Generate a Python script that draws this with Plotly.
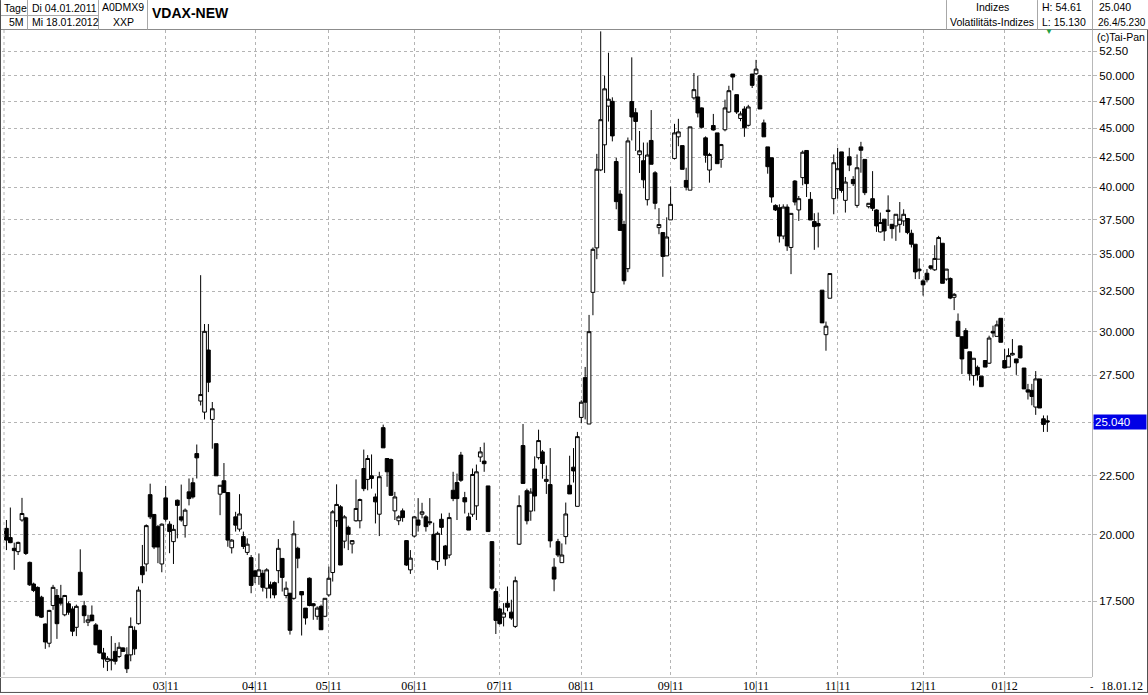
import math
import plotly.graph_objects as go

# ---------------- data ----------------
opens = [
    20.25, 19.88, 19.46, 19.33, 20.59, 20.68, 18.92, 18.12, 18.00, 17.65,
    16.73, 16.10, 17.36, 17.71, 17.61, 17.04, 17.42, 17.24, 16.62, 18.55,
    17.35, 16.79, 17.03, 16.70, 16.52, 15.79, 15.53, 15.55, 15.84, 15.68,
    15.95, 15.73, 15.73, 16.52, 16.74, 18.76, 18.86, 21.66, 20.82, 20.32,
    18.86, 21.52, 20.42, 19.72, 21.42, 20.72, 20.36, 21.78, 22.18, 23.51,
    26.11, 25.54, 28.91, 25.17, 23.98, 21.68, 22.27, 21.75, 19.48, 20.72,
    20.22, 19.92, 19.30, 19.10, 18.60, 18.40, 18.51, 17.97, 18.09, 18.17,
    18.61, 19.07, 17.71, 17.79, 17.61, 19.46, 17.85, 17.27, 18.33, 17.42,
    16.99, 17.33, 16.99, 17.73, 18.54, 20.56, 21.14, 19.74, 20.29, 19.63,
    20.56, 20.56, 22.82, 22.33, 22.49, 21.56, 20.83, 24.76, 23.28, 23.23,
    20.97, 20.56, 20.97, 19.76, 18.64, 19.94, 20.59, 20.83, 20.72, 20.52,
    20.01, 18.95, 20.62, 19.55, 19.20, 21.85, 22.19, 23.44, 21.53, 20.72,
    20.83, 21.18, 23.35, 23.16, 22.04, 19.72, 17.85, 17.24, 16.96, 17.44,
    17.13, 16.65, 19.62, 23.89, 21.83, 20.96, 22.80, 23.32, 23.59, 22.24,
    22.10, 18.74, 19.72, 18.91, 19.92, 22.07, 22.88, 21.16, 25.27, 27.36,
    24.94, 32.44, 35.45, 41.42, 43.55, 47.05, 47.50, 42.12, 39.47, 37.14,
    34.01, 47.48, 46.43, 42.70, 42.19, 39.03, 43.93, 41.18, 36.91, 36.55,
    34.89, 37.49, 42.38, 44.25, 43.48, 40.56, 39.78, 47.83, 47.92, 46.88,
    44.16, 41.41, 45.26, 44.60, 42.30, 44.88, 46.50, 50.16, 48.14, 45.90,
    46.78, 45.28, 50.16, 50.19, 49.99, 45.50, 43.37, 42.44, 38.59, 38.41,
    36.30, 38.46, 35.48, 40.51, 38.24, 40.79, 43.06, 39.06, 37.36, 37.22,
    32.58, 29.81, 32.06, 39.11, 39.90, 42.94, 38.98, 42.52, 40.64, 38.59,
    43.37, 42.30, 38.49, 39.11, 38.24, 36.60, 37.54, 38.22, 37.16, 37.04,
    37.16, 37.41, 37.59, 36.50, 35.71, 33.98, 33.19, 33.70, 34.20, 33.93,
    34.66, 35.78, 33.31, 33.35, 32.12, 30.62, 29.69, 30.05, 28.81, 27.47,
    27.93, 27.44, 28.31, 28.16, 30.01, 29.71, 30.80, 28.31, 27.94, 28.63,
    28.40, 29.15, 27.89, 26.70, 26.67, 25.80, 27.29, 25.20, 25.10,
]
highs = [
    20.59, 21.11, 19.68, 19.72, 21.52, 20.72, 18.95, 18.17, 18.03, 17.70,
    16.75, 17.21, 18.09, 17.94, 18.09, 17.73, 17.50, 17.33, 17.39, 19.42,
    17.52, 17.04, 17.36, 16.76, 16.54, 15.95, 15.69, 16.33, 16.11, 16.13,
    15.97, 15.97, 16.95, 16.65, 18.03, 19.59, 20.41, 22.14, 20.82, 20.39,
    20.45, 22.04, 20.54, 20.39, 21.45, 22.10, 21.07, 22.37, 22.40, 23.94,
    33.57, 30.45, 30.45, 26.06, 23.98, 22.07, 23.07, 21.75, 19.82, 20.93,
    21.68, 20.12, 19.85, 19.20, 18.64, 19.26, 18.64, 18.70, 18.21, 18.21,
    19.82, 19.07, 18.21, 17.79, 20.56, 19.52, 17.85, 17.27, 18.36, 17.44,
    17.33, 17.39, 17.61, 18.76, 21.00, 22.11, 21.21, 20.79, 20.36, 19.78,
    22.33, 21.49, 23.70, 23.44, 23.47, 21.71, 22.67, 24.91, 23.28, 23.28,
    21.78, 20.79, 21.07, 19.78, 19.39, 20.76, 21.51, 21.31, 20.79, 21.51,
    20.48, 20.12, 20.86, 19.59, 20.89, 22.67, 22.59, 23.59, 21.78, 20.89,
    22.82, 23.00, 23.82, 24.03, 22.04, 19.74, 17.97, 17.27, 17.44, 18.03,
    17.56, 18.39, 21.63, 24.94, 21.92, 21.94, 23.38, 24.66, 23.68, 22.96,
    23.77, 19.08, 19.83, 19.65, 21.32, 23.41, 23.77, 24.55, 26.15, 27.95,
    31.01, 35.48, 42.77, 54.62, 49.99, 52.34, 47.88, 42.43, 39.78, 37.42,
    44.19, 51.86, 46.86, 44.77, 43.75, 43.75, 46.68, 41.32, 38.38, 36.55,
    37.68, 40.06, 45.41, 45.87, 43.48, 41.60, 45.14, 50.26, 49.99, 46.93,
    44.29, 42.86, 46.32, 44.60, 43.63, 47.66, 49.00, 50.16, 48.14, 46.56,
    47.03, 47.17, 50.16, 51.60, 50.09, 45.80, 43.37, 42.44, 38.67, 38.67,
    38.67, 38.67, 37.98, 40.59, 39.32, 43.06, 43.06, 39.63, 37.99, 38.04,
    32.58, 30.60, 33.68, 42.72, 43.29, 42.94, 40.84, 43.29, 40.91, 42.72,
    43.81, 42.30, 38.75, 41.32, 38.29, 38.04, 37.54, 39.37, 37.16, 37.91,
    38.85, 38.29, 37.59, 36.76, 35.71, 34.71, 33.30, 33.98, 34.24, 35.64,
    36.31, 35.78, 33.98, 33.42, 32.39, 31.10, 29.69, 30.20, 28.81, 28.44,
    28.03, 27.44, 28.31, 29.75, 30.35, 30.66, 30.80, 28.97, 29.01, 29.55,
    28.40, 29.17, 27.89, 27.02, 27.02, 27.72, 27.29, 25.37, 25.37,
]
lows = [
    19.39, 19.66, 18.64, 19.20, 20.52, 19.20, 18.05, 17.83, 16.99, 16.93,
    15.92, 15.97, 17.21, 16.24, 17.36, 16.99, 17.04, 16.33, 16.33, 17.73,
    16.76, 16.66, 16.82, 16.04, 15.77, 15.33, 15.23, 15.25, 15.43, 15.63,
    15.82, 15.17, 15.53, 15.73, 16.71, 18.15, 18.58, 20.63, 19.43, 18.89,
    18.55, 20.52, 19.27, 18.86, 19.85, 20.52, 19.88, 21.20, 21.49, 22.37,
    25.88, 25.17, 26.58, 23.74, 22.49, 20.79, 21.75, 19.52, 19.26, 20.12,
    20.12, 19.43, 19.20, 17.79, 18.15, 18.09, 17.85, 17.61, 17.61, 17.61,
    18.15, 17.85, 17.61, 16.38, 17.56, 18.70, 16.35, 16.71, 17.33, 16.87,
    16.87, 16.54, 16.96, 17.67, 18.21, 20.31, 18.82, 19.46, 19.39, 19.26,
    20.52, 20.25, 21.81, 21.85, 21.92, 20.45, 19.94, 23.78, 22.00, 21.61,
    20.59, 20.38, 20.52, 18.79, 18.49, 19.88, 20.12, 20.66, 20.12, 20.38,
    19.01, 18.64, 19.99, 18.79, 19.08, 21.38, 20.59, 22.22, 20.86, 20.18,
    20.72, 20.59, 23.12, 22.67, 20.12, 17.91, 16.40, 16.71, 16.65, 17.16,
    16.87, 16.60, 19.59, 22.15, 20.41, 20.56, 20.95, 23.23, 22.36, 21.69,
    19.49, 17.86, 19.12, 18.91, 19.61, 21.69, 22.19, 21.16, 24.98, 25.17,
    24.94, 30.99, 34.66, 41.32, 41.17, 45.62, 43.85, 38.29, 36.71, 32.95,
    33.77, 43.93, 43.02, 41.17, 39.93, 38.58, 41.89, 38.29, 36.43, 33.46,
    34.89, 37.49, 42.29, 43.43, 41.47, 39.76, 39.78, 47.66, 46.00, 44.98,
    42.02, 40.38, 44.80, 41.94, 41.60, 44.74, 46.41, 48.55, 46.32, 45.65,
    44.25, 45.17, 48.78, 50.09, 46.78, 44.25, 41.11, 38.80, 38.16, 35.83,
    36.07, 35.24, 33.64, 38.59, 37.41, 40.17, 39.24, 37.48, 35.31, 35.48,
    30.52, 28.87, 32.06, 37.91, 39.11, 39.58, 38.04, 41.32, 40.11, 38.41,
    41.19, 39.39, 38.36, 38.16, 36.60, 36.55, 35.95, 37.04, 36.12, 35.95,
    36.55, 37.04, 36.43, 35.48, 33.31, 33.31, 32.23, 33.09, 33.93, 33.86,
    34.66, 33.03, 33.20, 32.00, 31.31, 29.71, 27.56, 28.97, 27.20, 26.93,
    27.20, 26.87, 27.94, 28.12, 29.65, 29.71, 29.36, 27.89, 27.94, 28.59,
    27.51, 28.44, 26.75, 26.19, 25.89, 25.40, 25.75, 24.55, 24.55,
]
closes = [
    19.78, 19.68, 19.37, 19.69, 20.86, 19.26, 18.09, 17.89, 17.01, 16.96,
    16.14, 17.19, 18.00, 16.74, 17.44, 17.71, 17.13, 16.49, 17.33, 17.73,
    17.01, 16.87, 16.84, 16.05, 15.79, 15.60, 15.62, 15.59, 15.53, 15.97,
    15.84, 15.30, 16.65, 15.92, 17.90, 18.46, 20.36, 20.72, 19.51, 19.51,
    20.42, 20.62, 20.12, 20.21, 21.20, 20.59, 21.00, 21.49, 21.56, 23.31,
    26.45, 30.01, 27.11, 25.71, 22.49, 22.07, 21.75, 19.78, 19.78, 20.38,
    20.84, 19.53, 19.62, 18.07, 18.40, 18.64, 18.00, 18.64, 17.97, 17.73,
    19.46, 18.36, 17.97, 16.52, 20.03, 19.08, 17.73, 16.93, 17.36, 17.35,
    17.27, 16.54, 17.61, 18.33, 20.93, 21.24, 18.82, 20.72, 20.01, 19.76,
    21.07, 21.45, 21.92, 23.28, 22.37, 21.35, 22.45, 23.78, 22.67, 21.63,
    21.56, 20.72, 20.69, 18.82, 19.08, 20.72, 20.38, 20.93, 20.32, 20.48,
    19.01, 20.05, 20.29, 19.05, 20.69, 21.49, 21.49, 22.29, 21.35, 20.18,
    22.55, 22.67, 23.59, 23.04, 20.12, 17.97, 16.85, 16.74, 17.10, 17.30,
    16.93, 18.24, 21.19, 22.15, 20.56, 21.77, 21.60, 24.13, 23.05, 22.33,
    19.75, 18.30, 19.20, 19.20, 20.84, 21.69, 22.71, 24.32, 26.05, 26.05,
    29.99, 35.35, 41.48, 45.79, 48.70, 47.70, 44.33, 38.88, 36.71, 33.20,
    43.89, 46.04, 45.63, 43.03, 40.61, 42.67, 41.89, 38.75, 37.14, 34.85,
    36.23, 38.67, 44.60, 44.69, 41.47, 40.02, 45.14, 48.62, 46.41, 45.10,
    42.65, 42.72, 44.86, 41.94, 43.57, 46.88, 48.52, 49.86, 46.50, 46.32,
    45.05, 46.97, 49.04, 50.66, 46.78, 44.25, 41.69, 39.24, 38.24, 36.30,
    38.46, 35.59, 37.98, 38.85, 39.11, 42.91, 40.30, 37.48, 36.99, 37.04,
    30.52, 30.32, 33.68, 42.02, 41.52, 39.76, 40.43, 41.82, 40.30, 41.60,
    43.08, 39.58, 38.75, 38.36, 37.04, 37.29, 36.67, 38.12, 36.84, 37.91,
    37.54, 37.91, 36.55, 35.71, 33.79, 33.87, 32.93, 33.26, 34.04, 34.71,
    36.19, 33.03, 33.98, 32.07, 32.31, 29.71, 28.40, 29.01, 27.57, 28.44,
    27.51, 26.87, 27.94, 29.61, 29.91, 30.40, 29.36, 27.89, 28.59, 28.72,
    28.18, 28.46, 26.75, 26.58, 26.35, 27.29, 25.75, 24.92, 25.04,
]
sessions = list(range(len(opens)))  # trading-day positions

month_start_sessions = [41, 64, 83, 105, 127, 148, 171, 193, 214, 236, 257]
month_labels = ["03|11", "04|11", "05|11", "06|11", "07|11", "08|11",
                "09|11", "10|11", "11|11", "12|11", "01|12"]

price_ticks = [17.5, 20.0, 22.5, 25.0, 27.5, 30.0, 32.5, 35.0, 37.5,
               40.0, 42.5, 45.0, 47.5, 50.0, 52.5]
price_tick_text = ["17.500", "20.000", "22.500", "", "27.500", "30.000",
                   "32.500", "35.000", "37.500", "40.000", "42.500",
                   "45.000", "47.500", "50.000", "52.50"]
last_close_text = "25.040"
y_low, y_high = 15.05, 54.77

# ---------------- layout geometry ----------------
W, H = 1148, 695
PL, PR, PT, PB = 2, 1092, 30, 679


def px(x):
    return (x - PL) / (PR - PL)


def py(y):
    return (PB - y) / (PB - PT)


FONT = "Liberation Sans"
GRID = "#b4b4b4"
BORDER = "#a8a8a8"

fig = go.Figure()
fig.add_trace(go.Candlestick(
    x=sessions, open=opens, high=highs, low=lows, close=closes,
    increasing=dict(line=dict(color="black", width=1), fillcolor="white"),
    decreasing=dict(line=dict(color="black", width=1), fillcolor="black"),
    whiskerwidth=0, showlegend=False, hoverinfo="skip",
))

shapes = []


def line(x0, y0, x1, y1, color=BORDER, width=1, dash="solid"):
    shapes.append(dict(type="line", xref="paper", yref="paper",
                       x0=px(x0), y0=py(y0), x1=px(x1), y1=py(y1),
                       line=dict(color=color, width=width, dash=dash)))


# header frame
line(0, 29.5, 1148, 29.5, color="#8c8c8c")
line(0, 15.5, 98, 15.5)
for xv in (27.5, 98.5, 147.5):
    line(xv, 0, xv, 29.5)
for xv in (946.5, 1037.5, 1092.5):
    line(xv, 0, xv, 29.5)
# outer borders
line(0.5, 0, 0.5, 695, color="#505050")
line(1147.5, 30, 1147.5, 695, color="#505050")
line(0, 679.5, 1092, 679.5, color="#c8c8c8")
line(0, 694.5, 1148, 694.5, color="#505050")
# leftmost dashed grid line
line(4, 30, 4, 679, color=GRID, dash="3px,3px")

annotations = []


def text(x, y, s, size=10.5, anchor="left", color="black", bold=False, family=FONT, **kw):
    annotations.append(dict(
        x=px(x), y=py(y), xref="paper", yref="paper", text=("<b>%s</b>" % s) if bold else s,
        showarrow=False, xanchor=anchor, yanchor="middle",
        font=dict(family=family, size=size, color=color), **kw))


text(2, 8, "Tage")
text(7, 22, "5M")
text(30, 8, "Di 04.01.2011")
text(30, 22, "Mi 18.01.2012")
text(123, 7, "A0DMX9", anchor="center")
text(123, 22, "XXP", anchor="center")
text(150, 13, "VDAX-NEW", size=14, bold=True)
text(992, 7, "Indizes", anchor="center")
text(992, 22, "Volatilitäts-Indizes", anchor="center")
text(1040, 7, "H: 54.61")
text(1040, 22, "L: 15.130")
text(1097, 7, "25.040")
text(1096, 22, "26.4/5.230", size=10)
text(1095, 37, "(c)Tai-Pan")
text(1092, 688, "-", anchor="center")
text(1099, 688, "18.01.12", family="Liberation Sans Narrow", size=12)
text(1049, 32, "▼", anchor="center", color="#22a045", size=8)
annotations.append(dict(
    x=px(1093), y=py(423.3), xref="paper", yref="paper", text=last_close_text,
    showarrow=False, xanchor="left", yanchor="middle", bgcolor="#0000e6",
    width=50, align="left", borderpad=1,
    font=dict(family=FONT, size=11.5, color="white")))

fig.update_layout(
    width=W, height=H,
    margin=dict(l=PL, r=W - PR, t=PT, b=H - PB),
    paper_bgcolor="white", plot_bgcolor="white",
    boxgap=0.05, boxgroupgap=0.0,
    hovermode=False,
    shapes=shapes, annotations=annotations,
    xaxis=dict(
        range=[(PL - 6.45) / 3.884, (PR - 6.45) / 3.884],
        rangeslider=dict(visible=False),
        tickmode="array", tickvals=month_start_sessions, ticktext=month_labels,
        showgrid=True, gridcolor=GRID, griddash="3px,3px", gridwidth=1,
        zeroline=False, showline=False, ticks="",
        tickfont=dict(family="Liberation Sans Narrow", size=12, color="black"),
        fixedrange=True,
    ),
    yaxis=dict(
        type="log", side="right",
        range=[math.log10(y_low), math.log10(y_high)],
        tickmode="array", tickvals=price_ticks, ticktext=price_tick_text,
        showgrid=True, gridcolor=GRID, griddash="3px,3px", gridwidth=1,
        zeroline=False, showline=True, linecolor="#b8b8b8", linewidth=1,
        ticks="outside", ticklen=4, tickcolor="#b8b8b8",
        tickfont=dict(family=FONT, size=11.5, color="black"),
        fixedrange=True,
    ),
)

fig.write_html(
    "out.html",
    config={"staticPlot": True},
    post_script="document.body.style.margin='0';document.body.style.padding='0';",
)
